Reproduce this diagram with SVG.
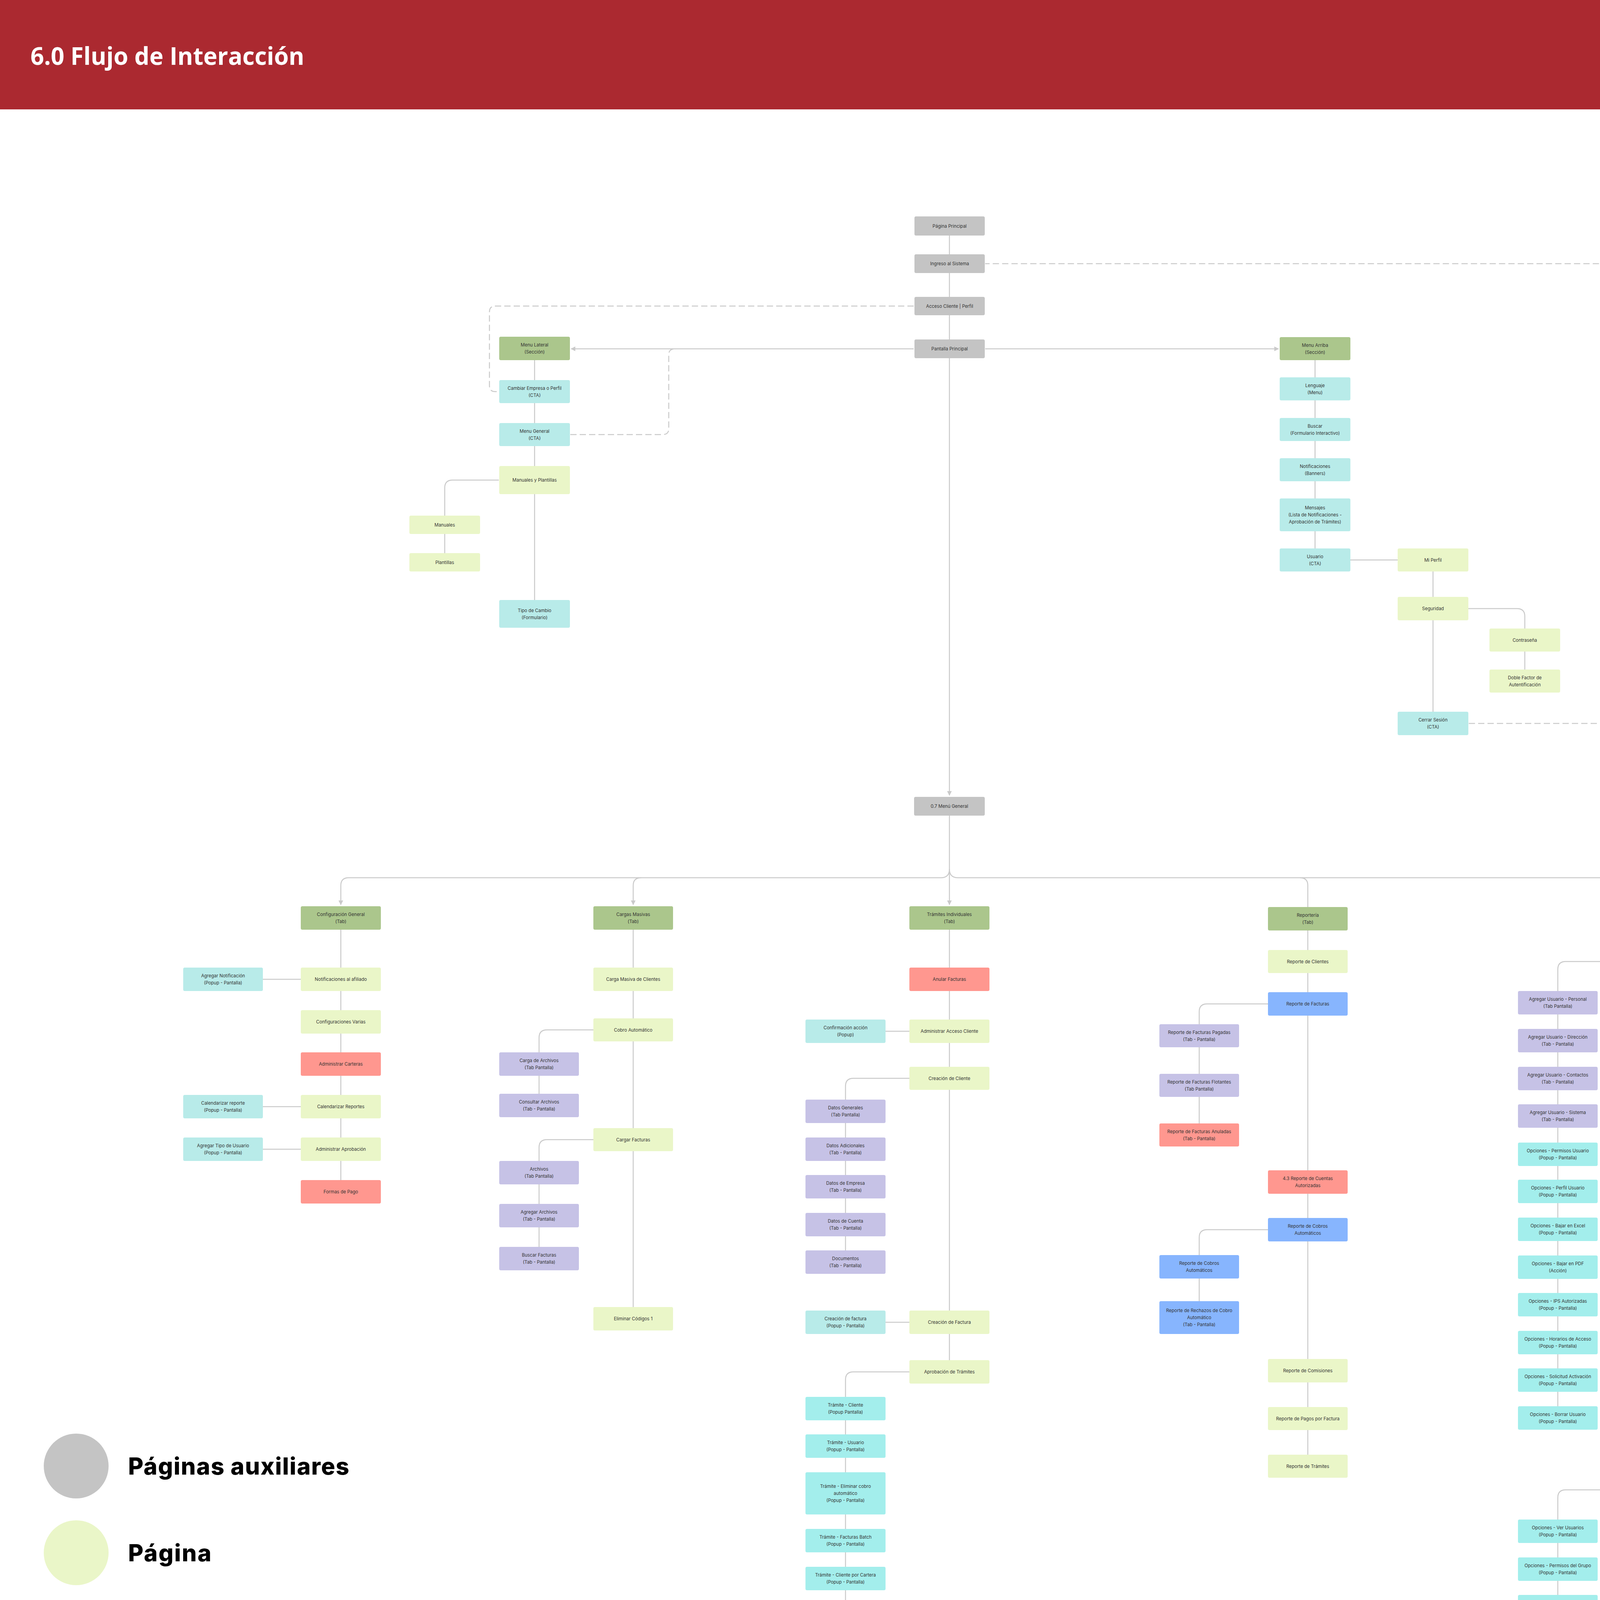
<svg xmlns="http://www.w3.org/2000/svg" width="4870" height="5050" viewBox="0 0 4870 5050">
<defs>
<style>
.n{stroke:none}
.aux{fill:#C4C4C4}.page{fill:#EAF6C8}.pop{fill:#B8EBE9}.pop2{fill:#A3EEEC}.menu{fill:#ABC68C}.del{fill:#FF978F}.tab{fill:#C6C2E6}.join{fill:#87B5FE}
.t{font-family:Inter,"Liberation Sans",sans-serif;font-size:11.5px;fill:#333333;text-anchor:middle}
.c{fill:none;stroke:#CACACA;stroke-width:2.5}
.d{fill:none;stroke:#CACACA;stroke-width:2.5;stroke-dasharray:16 8}
.lg{font-family:Inter,"DejaVu Sans",sans-serif;font-size:60px;font-weight:800;fill:#000000}
</style>
<marker id="arr" viewBox="0 0 10 10" refX="9" refY="5" markerWidth="12" markerHeight="12" markerUnits="userSpaceOnUse" orient="auto"><path d="M0,0 L10,5 L0,10 z" fill="#CACACA"/></marker>
</defs>
<rect x="0" y="0" width="4870" height="5050" fill="#FFFFFF"/>
<g id="header">
<rect x="0" y="0" width="4870" height="280" fill="#AB2930"/>
<text x="78" y="166" font-family="'Open Sans','Noto Sans',sans-serif" font-size="62" font-weight="700" fill="#FFFFFF" textLength="701" lengthAdjust="spacingAndGlyphs">6.0 Flujo de Interacción</text>
</g>
<g id="connectors">
<path class="c" d="M2430.5 603 V2036" marker-end="url(#arr)"/>
<path class="c" d="M2339 893 H1462" marker-end="url(#arr)"/>
<path class="c" d="M2522 893 H3273" marker-end="url(#arr)"/>
<path class="c" d="M1368.5 922 V1536"/>
<path class="c" d="M1277 1229 H1158.5 Q1138.5 1229 1138.5 1249 V1416"/>
<path class="c" d="M3366.5 922 V1404"/>
<path class="c" d="M3457 1433.5 H3578"/>
<path class="c" d="M3668.5 1463 V1822"/>
<path class="c" d="M3759 1558 H3883.5 Q3903.5 1558 3903.5 1578 V1714"/>
<path class="d" d="M2339 783.5 H1268 Q1253 783.5 1253 798.5 V987.5 Q1253 1002.5 1268 1002.5 H1276"/>
<path class="d" d="M1460 1112.5 H1697 Q1712 1112.5 1712 1097.5 V908 Q1712 893 1727 893"/>
<path class="d" d="M3760 1852 H4169 Q4184 1852 4184 1837 V690 Q4184 675 4169 675 H2522"/>
<path class="c" d="M2430.5 2088 V2316" marker-end="url(#arr)"/>
<path class="c" d="M2430.5 2225 Q2430.5 2247 2408.5 2247 H892.5 Q872.5 2247 872.5 2267 V2316" marker-end="url(#arr)"/>
<path class="c" d="M1641 2247 Q1621 2247 1621 2267 V2316" marker-end="url(#arr)"/>
<path class="c" d="M2430.5 2225 Q2430.5 2247 2452.5 2247 H4221.5 Q4241.5 2247 4241.5 2267 V2323"/>
<path class="c" d="M3328 2247 Q3348 2247 3348 2267 V2322"/>
<path class="c" d="M872.5 2380 V3021"/>
<path class="c" d="M673 2507 H770"/>
<path class="c" d="M673 2833 H770"/>
<path class="c" d="M673 2942 H770"/>
<path class="c" d="M1621 2380 V3346"/>
<path class="c" d="M1519 2636.5 H1400 Q1380 2636.5 1380 2656.5 V2800"/>
<path class="c" d="M1519 2917.5 H1400 Q1380 2917.5 1380 2937.5 V3192"/>
<path class="c" d="M2430.5 2380 V3482"/>
<path class="c" d="M2328 2640 H2267"/>
<path class="c" d="M2328 2760.5 H2184.5 Q2164.5 2760.5 2164.5 2780.5 V3201"/>
<path class="c" d="M2328 3385 H2267"/>
<path class="c" d="M2328 3512 H2184.5 Q2164.5 3512 2164.5 3532 V4397"/>
<path class="c" d="M3348 2382 V3724"/>
<path class="c" d="M3246 2570 H3090 Q3070 2570 3070 2590 V2876"/>
<path class="c" d="M3246 3148 H3090 Q3070 3148 3070 3168 V3331"/>
<path class="c" d="M4241.5 2383 V3784"/>
<path class="c" d="M4139 2461.5 H4008 Q3988 2461.5 3988 2481.5 V3600"/>
<path class="c" d="M4139 3814 H4008 Q3988 3814 3988 3834 V4083"/>
</g>
<g id="n-pagina-principal"><rect class="n aux" x="2341" y="554" width="180" height="49" rx="4"/><text class="t" x="2431" y="582.5">Página Principal</text></g>
<g id="n-ingreso"><rect class="n aux" x="2341" y="651" width="180" height="48" rx="4"/><text class="t" x="2431" y="679">Ingreso al Sistema</text></g>
<g id="n-acceso"><rect class="n aux" x="2341" y="760" width="180" height="47" rx="4"/><text class="t" x="2431" y="787.5">Acceso Cliente | Perfil</text></g>
<g id="n-pantalla"><rect class="n aux" x="2341" y="869" width="180" height="48" rx="4"/><text class="t" x="2431" y="897">Pantalla Principal</text></g>
<g id="n-menu-lateral"><rect class="n menu" x="1278" y="862" width="181" height="60" rx="4"/><text class="t" x="1368.5" y="887">Menu Lateral</text><text class="t" x="1368.5" y="905">(Sección)</text></g>
<g id="n-cambiar"><rect class="n pop" x="1278" y="973" width="181" height="59" rx="4"/><text class="t" x="1368.5" y="997.5">Cambiar Empresa o Perfil</text><text class="t" x="1368.5" y="1015.5">(CTA)</text></g>
<g id="n-menu-general-cta"><rect class="n pop" x="1278" y="1083" width="181" height="59" rx="4"/><text class="t" x="1368.5" y="1107.5">Menu General</text><text class="t" x="1368.5" y="1125.5">(CTA)</text></g>
<g id="n-manuales-plantillas"><rect class="n page" x="1278" y="1193" width="181" height="72" rx="4"/><text class="t" x="1368.5" y="1233">Manuales y Plantillas</text></g>
<g id="n-manuales"><rect class="n page" x="1048" y="1320" width="181" height="47" rx="4"/><text class="t" x="1138.5" y="1347.5">Manuales</text></g>
<g id="n-plantillas"><rect class="n page" x="1048" y="1416" width="181" height="47" rx="4"/><text class="t" x="1138.5" y="1443.5">Plantillas</text></g>
<g id="n-tipo-cambio"><rect class="n pop" x="1278" y="1536" width="181" height="71" rx="4"/><text class="t" x="1368.5" y="1566.5">Tipo de Cambio</text><text class="t" x="1368.5" y="1584.5">(Formulario)</text></g>
<g id="n-menu-arriba"><rect class="n menu" x="3276" y="863" width="181" height="59" rx="4"/><text class="t" x="3366.5" y="887.5">Menu Arriba</text><text class="t" x="3366.5" y="905.5">(Sección)</text></g>
<g id="n-lenguaje"><rect class="n pop" x="3276" y="966" width="181" height="59" rx="4"/><text class="t" x="3366.5" y="990.5">Lenguaje</text><text class="t" x="3366.5" y="1008.5">(Menu)</text></g>
<g id="n-buscar"><rect class="n pop" x="3276" y="1070" width="181" height="59" rx="4"/><text class="t" x="3366.5" y="1094.5">Buscar</text><text class="t" x="3366.5" y="1112.5">(Formulario Interactivo)</text></g>
<g id="n-notificaciones"><rect class="n pop" x="3276" y="1173" width="181" height="59" rx="4"/><text class="t" x="3366.5" y="1197.5">Notificaciones</text><text class="t" x="3366.5" y="1215.5">(Banners)</text></g>
<g id="n-mensajes"><rect class="n pop" x="3276" y="1276" width="181" height="84" rx="4"/><text class="t" x="3366.5" y="1304">Mensajes</text><text class="t" x="3366.5" y="1322">(Lista de Notificaciones -</text><text class="t" x="3366.5" y="1340">Aprobación de Trámites)</text></g>
<g id="n-usuario"><rect class="n pop" x="3276" y="1404" width="181" height="59" rx="4"/><text class="t" x="3366.5" y="1428.5">Usuario</text><text class="t" x="3366.5" y="1446.5">(CTA)</text></g>
<g id="n-mi-perfil"><rect class="n page" x="3578" y="1404" width="181" height="59" rx="4"/><text class="t" x="3668.5" y="1437.5">Mi Perfil</text></g>
<g id="n-seguridad"><rect class="n page" x="3578" y="1528" width="181" height="60" rx="4"/><text class="t" x="3668.5" y="1562">Seguridad</text></g>
<g id="n-contrasena"><rect class="n page" x="3813" y="1609" width="181" height="59" rx="4"/><text class="t" x="3903.5" y="1642.5">Contraseña</text></g>
<g id="n-doble-factor"><rect class="n page" x="3813" y="1714" width="181" height="59" rx="4"/><text class="t" x="3903.5" y="1738.5">Doble Factor de</text><text class="t" x="3903.5" y="1756.5">Autentificación</text></g>
<g id="n-cerrar-sesion"><rect class="n pop" x="3578" y="1822" width="181" height="60" rx="4"/><text class="t" x="3668.5" y="1847">Cerrar Sesión</text><text class="t" x="3668.5" y="1865">(CTA)</text></g>
<g id="n-menu-general"><rect class="n aux" x="2340" y="2040" width="181" height="48" rx="4"/><text class="t" x="2430.5" y="2068">0.7 Menú General</text></g>
<g id="n-config-general"><rect class="n menu" x="770" y="2320" width="205" height="60" rx="4"/><text class="t" x="872.5" y="2345">Configuración General</text><text class="t" x="872.5" y="2363">(Tab)</text></g>
<g id="n-notif-afiliado"><rect class="n page" x="770" y="2477" width="205" height="60" rx="4"/><text class="t" x="872.5" y="2511">Notificaciones al afiliado</text></g>
<g id="n-config-varias"><rect class="n page" x="770" y="2586" width="205" height="60" rx="4"/><text class="t" x="872.5" y="2620">Configuraciones Varias</text></g>
<g id="n-admin-carteras"><rect class="n del" x="770" y="2694" width="205" height="60" rx="4"/><text class="t" x="872.5" y="2728">Administrar Carteras</text></g>
<g id="n-calendarizar-reportes"><rect class="n page" x="770" y="2803" width="205" height="60" rx="4"/><text class="t" x="872.5" y="2837">Calendarizar Reportes</text></g>
<g id="n-admin-aprobacion"><rect class="n page" x="770" y="2912" width="205" height="60" rx="4"/><text class="t" x="872.5" y="2946">Administrar Aprobación</text></g>
<g id="n-formas-pago"><rect class="n del" x="770" y="3021" width="205" height="60" rx="4"/><text class="t" x="872.5" y="3055">Formas de Pago</text></g>
<g id="n-agregar-notif"><rect class="n pop" x="469" y="2477" width="204" height="60" rx="4"/><text class="t" x="571" y="2502">Agregar Notificación</text><text class="t" x="571" y="2520">(Popup - Pantalla)</text></g>
<g id="n-calendarizar-reporte"><rect class="n pop" x="469" y="2803" width="204" height="60" rx="4"/><text class="t" x="571" y="2828">Calendarizar reporte</text><text class="t" x="571" y="2846">(Popup - Pantalla)</text></g>
<g id="n-agregar-tipo-usuario"><rect class="n pop" x="469" y="2912" width="204" height="60" rx="4"/><text class="t" x="571" y="2937">Agregar Tipo de Usuario</text><text class="t" x="571" y="2955">(Popup - Pantalla)</text></g>
<g id="n-cargas-masivas"><rect class="n menu" x="1519" y="2320" width="204" height="60" rx="4"/><text class="t" x="1621" y="2345">Cargas Masivas</text><text class="t" x="1621" y="2363">(Tab)</text></g>
<g id="n-carga-masiva-clientes"><rect class="n page" x="1519" y="2477" width="204" height="60" rx="4"/><text class="t" x="1621" y="2511">Carga Masiva de Clientes</text></g>
<g id="n-cobro-automatico"><rect class="n page" x="1519" y="2607" width="204" height="59" rx="4"/><text class="t" x="1621" y="2640.5">Cobro Automático</text></g>
<g id="n-cargar-facturas"><rect class="n page" x="1519" y="2888" width="204" height="59" rx="4"/><text class="t" x="1621" y="2921.5">Cargar Facturas</text></g>
<g id="n-eliminar-codigos"><rect class="n page" x="1519" y="3346" width="204" height="60" rx="4"/><text class="t" x="1621" y="3380">Eliminar Códigos 1</text></g>
<g id="n-carga-archivos"><rect class="n tab" x="1278" y="2694" width="204" height="60" rx="4"/><text class="t" x="1380" y="2719">Carga de Archivos</text><text class="t" x="1380" y="2737">(Tab Pantalla)</text></g>
<g id="n-consultar-archivos"><rect class="n tab" x="1278" y="2800" width="204" height="60" rx="4"/><text class="t" x="1380" y="2825">Consultar Archivos</text><text class="t" x="1380" y="2843">(Tab - Pantalla)</text></g>
<g id="n-archivos"><rect class="n tab" x="1278" y="2972" width="204" height="60" rx="4"/><text class="t" x="1380" y="2997">Archivos</text><text class="t" x="1380" y="3015">(Tab Pantalla)</text></g>
<g id="n-agregar-archivos"><rect class="n tab" x="1278" y="3082" width="204" height="60" rx="4"/><text class="t" x="1380" y="3107">Agregar Archivos</text><text class="t" x="1380" y="3125">(Tab - Pantalla)</text></g>
<g id="n-buscar-facturas"><rect class="n tab" x="1278" y="3192" width="204" height="60" rx="4"/><text class="t" x="1380" y="3217">Buscar Facturas</text><text class="t" x="1380" y="3235">(Tab - Pantalla)</text></g>
<g id="n-tramites-individuales"><rect class="n menu" x="2328" y="2320" width="205" height="60" rx="4"/><text class="t" x="2430.5" y="2345">Trámites Individuales</text><text class="t" x="2430.5" y="2363">(Tab)</text></g>
<g id="n-anular-facturas"><rect class="n del" x="2328" y="2477" width="205" height="60" rx="4"/><text class="t" x="2430.5" y="2511">Anular Facturas</text></g>
<g id="n-admin-acceso-cliente"><rect class="n page" x="2328" y="2610" width="205" height="60" rx="4"/><text class="t" x="2430.5" y="2644">Administrar Acceso Cliente</text></g>
<g id="n-creacion-cliente"><rect class="n page" x="2328" y="2731" width="205" height="59" rx="4"/><text class="t" x="2430.5" y="2764.5">Creación de Cliente</text></g>
<g id="n-creacion-factura"><rect class="n page" x="2328" y="3355" width="205" height="60" rx="4"/><text class="t" x="2430.5" y="3389">Creación de Factura</text></g>
<g id="n-aprobacion-tramites"><rect class="n page" x="2328" y="3482" width="205" height="60" rx="4"/><text class="t" x="2430.5" y="3516">Aprobación de Trámites</text></g>
<g id="n-confirmacion-accion"><rect class="n pop" x="2062" y="2610" width="205" height="60" rx="4"/><text class="t" x="2164.5" y="2635">Confirmación acción</text><text class="t" x="2164.5" y="2653">(Popup)</text></g>
<g id="n-datos-generales"><rect class="n tab" x="2062" y="2815" width="205" height="60" rx="4"/><text class="t" x="2164.5" y="2840">Datos Generales</text><text class="t" x="2164.5" y="2858">(Tab Pantalla)</text></g>
<g id="n-datos-adicionales"><rect class="n tab" x="2062" y="2912" width="205" height="60" rx="4"/><text class="t" x="2164.5" y="2937">Datos Adicionales</text><text class="t" x="2164.5" y="2955">(Tab - Pantalla)</text></g>
<g id="n-datos-empresa"><rect class="n tab" x="2062" y="3008" width="205" height="60" rx="4"/><text class="t" x="2164.5" y="3033">Datos de Empresa</text><text class="t" x="2164.5" y="3051">(Tab - Pantalla)</text></g>
<g id="n-datos-cuenta"><rect class="n tab" x="2062" y="3105" width="205" height="60" rx="4"/><text class="t" x="2164.5" y="3130">Datos de Cuenta</text><text class="t" x="2164.5" y="3148">(Tab - Pantalla)</text></g>
<g id="n-documentos"><rect class="n tab" x="2062" y="3201" width="205" height="60" rx="4"/><text class="t" x="2164.5" y="3226">Documentos</text><text class="t" x="2164.5" y="3244">(Tab - Pantalla)</text></g>
<g id="n-creacion-factura-popup"><rect class="n pop" x="2062" y="3355" width="205" height="60" rx="4"/><text class="t" x="2164.5" y="3380">Creación de factura</text><text class="t" x="2164.5" y="3398">(Popup - Pantalla)</text></g>
<g id="n-tramite-cliente"><rect class="n pop2" x="2062" y="3576" width="205" height="60" rx="4"/><text class="t" x="2164.5" y="3601">Trámite - Cliente</text><text class="t" x="2164.5" y="3619">(Popup Pantalla)</text></g>
<g id="n-tramite-usuario"><rect class="n pop2" x="2062" y="3672" width="205" height="60" rx="4"/><text class="t" x="2164.5" y="3697">Trámite - Usuario</text><text class="t" x="2164.5" y="3715">(Popup - Pantalla)</text></g>
<g id="n-tramite-eliminar-cobro"><rect class="n pop2" x="2062" y="3769" width="205" height="108" rx="4"/><text class="t" x="2164.5" y="3809">Trámite - Eliminar cobro</text><text class="t" x="2164.5" y="3827">automático</text><text class="t" x="2164.5" y="3845">(Popup - Pantalla)</text></g>
<g id="n-tramite-facturas-batch"><rect class="n pop2" x="2062" y="3914" width="205" height="60" rx="4"/><text class="t" x="2164.5" y="3939">Trámite - Facturas Batch</text><text class="t" x="2164.5" y="3957">(Popup - Pantalla)</text></g>
<g id="n-tramite-cliente-cartera"><rect class="n pop2" x="2062" y="4011" width="205" height="60" rx="4"/><text class="t" x="2164.5" y="4036">Trámite - Cliente por Cartera</text><text class="t" x="2164.5" y="4054">(Popup - Pantalla)</text></g>
<g id="n-tramite-eliminar-codigos"><rect class="n pop2" x="2062" y="4107" width="205" height="60" rx="4"/><text class="t" x="2164.5" y="4132">Trámite - Eliminar Códigos 1</text><text class="t" x="2164.5" y="4150">(Popup - Pantalla)</text></g>
<g id="n-tramite-permiso"><rect class="n pop2" x="2062" y="4204" width="205" height="60" rx="4"/><text class="t" x="2164.5" y="4229">Trámite - Permiso</text><text class="t" x="2164.5" y="4247">(Popup - Pantalla)</text></g>
<g id="n-tramite-usuario-cartera"><rect class="n pop2" x="2062" y="4300" width="205" height="60" rx="4"/><text class="t" x="2164.5" y="4325">Trámite - Usuario por cartera</text><text class="t" x="2164.5" y="4343">(Popup - Pantalla)</text></g>
<g id="n-tramite-cobro-automatico"><rect class="n pop2" x="2062" y="4397" width="205" height="60" rx="4"/><text class="t" x="2164.5" y="4422">Trámite - Cobro Automático</text><text class="t" x="2164.5" y="4440">(Popup - Pantalla)</text></g>
<g id="n-reporteria"><rect class="n menu" x="3246" y="2322" width="204" height="60" rx="4"/><text class="t" x="3348" y="2347">Reportería</text><text class="t" x="3348" y="2365">(Tab)</text></g>
<g id="n-reporte-clientes"><rect class="n page" x="3246" y="2432" width="204" height="59" rx="4"/><text class="t" x="3348" y="2465.5">Reporte de Clientes</text></g>
<g id="n-reporte-facturas"><rect class="n join" x="3246" y="2540" width="204" height="60" rx="4"/><text class="t" x="3348" y="2574">Reporte de Facturas</text></g>
<g id="n-reporte-cuentas"><rect class="n del" x="3246" y="2996" width="204" height="60" rx="4"/><text class="t" x="3348" y="3021">4.3 Reporte de Cuentas</text><text class="t" x="3348" y="3039">Autorizadas</text></g>
<g id="n-reporte-cobros"><rect class="n join" x="3246" y="3118" width="204" height="60" rx="4"/><text class="t" x="3348" y="3143">Reporte de Cobros</text><text class="t" x="3348" y="3161">Automáticos</text></g>
<g id="n-reporte-comisiones"><rect class="n page" x="3246" y="3479" width="204" height="60" rx="4"/><text class="t" x="3348" y="3513">Reporte de Comisiones</text></g>
<g id="n-reporte-pagos"><rect class="n page" x="3246" y="3602" width="204" height="59" rx="4"/><text class="t" x="3348" y="3635.5">Reporte de Pagos por Factura</text></g>
<g id="n-reporte-tramites"><rect class="n page" x="3246" y="3724" width="204" height="59" rx="4"/><text class="t" x="3348" y="3757.5">Reporte de Trámites</text></g>
<g id="n-reporte-pagadas"><rect class="n tab" x="2968" y="2622" width="204" height="59" rx="4"/><text class="t" x="3070" y="2646.5">Reporte de Facturas Pagadas</text><text class="t" x="3070" y="2664.5">(Tab - Pantalla)</text></g>
<g id="n-reporte-flotantes"><rect class="n tab" x="2968" y="2749" width="204" height="59" rx="4"/><text class="t" x="3070" y="2773.5">Reporte de Facturas Flotantes</text><text class="t" x="3070" y="2791.5">(Tab Pantalla)</text></g>
<g id="n-reporte-anuladas"><rect class="n del" x="2968" y="2876" width="204" height="59" rx="4"/><text class="t" x="3070" y="2900.5">Reporte de Facturas Anuladas</text><text class="t" x="3070" y="2918.5">(Tab - Pantalla)</text></g>
<g id="n-reporte-cobros-2"><rect class="n join" x="2968" y="3213" width="204" height="60" rx="4"/><text class="t" x="3070" y="3238">Reporte de Cobros</text><text class="t" x="3070" y="3256">Automáticos</text></g>
<g id="n-reporte-rechazos"><rect class="n join" x="2968" y="3331" width="204" height="84" rx="4"/><text class="t" x="3070" y="3359">Reporte de Rechazos de Cobro</text><text class="t" x="3070" y="3377">Automático</text><text class="t" x="3070" y="3395">(Tab - Pantalla)</text></g>
<g id="n-admin-usuarios"><rect class="n menu" x="4139" y="2323" width="205" height="60" rx="4"/><text class="t" x="4241.5" y="2348">5.0 Administración de Usuarios</text><text class="t" x="4241.5" y="2366">(Tab)</text></g>
<g id="n-catalogo-usuarios"><rect class="n page" x="4139" y="2432" width="205" height="59" rx="4"/><text class="t" x="4241.5" y="2465.5">Catálogo de Usuarios</text></g>
<g id="n-catalogo-grupos"><rect class="n page" x="4139" y="3784" width="205" height="60" rx="4"/><text class="t" x="4241.5" y="3818">Catálogo de Grupos</text></g>
<g id="n-au-personal"><rect class="n tab" x="3886" y="2537" width="204" height="60" rx="4"/><text class="t" x="3988" y="2562">Agregar Usuario - Personal</text><text class="t" x="3988" y="2580">(Tab Pantalla)</text></g>
<g id="n-au-direccion"><rect class="n tab" x="3886" y="2634" width="204" height="60" rx="4"/><text class="t" x="3988" y="2659">Agregar Usuario - Dirección</text><text class="t" x="3988" y="2677">(Tab - Pantalla)</text></g>
<g id="n-au-contactos"><rect class="n tab" x="3886" y="2731" width="204" height="60" rx="4"/><text class="t" x="3988" y="2756">Agregar Usuario - Contactos</text><text class="t" x="3988" y="2774">(Tab - Pantalla)</text></g>
<g id="n-au-sistema"><rect class="n tab" x="3886" y="2827" width="204" height="60" rx="4"/><text class="t" x="3988" y="2852">Agregar Usuario - Sistema</text><text class="t" x="3988" y="2870">(Tab - Pantalla)</text></g>
<g id="n-op-permisos"><rect class="n pop2" x="3886" y="2925" width="204" height="60" rx="4"/><text class="t" x="3988" y="2950">Opciones - Permisos Usuario</text><text class="t" x="3988" y="2968">(Popup - Pantalla)</text></g>
<g id="n-op-perfil"><rect class="n pop2" x="3886" y="3020" width="204" height="60" rx="4"/><text class="t" x="3988" y="3045">Opciones - Perfil Usuario</text><text class="t" x="3988" y="3063">(Popup - Pantalla)</text></g>
<g id="n-op-excel"><rect class="n pop2" x="3886" y="3117" width="204" height="60" rx="4"/><text class="t" x="3988" y="3142">Opciones - Bajar en Excel</text><text class="t" x="3988" y="3160">(Popup - Pantalla)</text></g>
<g id="n-op-pdf"><rect class="n pop2" x="3886" y="3214" width="204" height="60" rx="4"/><text class="t" x="3988" y="3239">Opciones - Bajar en PDF</text><text class="t" x="3988" y="3257">(Acción)</text></g>
<g id="n-op-ips"><rect class="n pop2" x="3886" y="3310" width="204" height="60" rx="4"/><text class="t" x="3988" y="3335">Opciones - IPS Autorizadas</text><text class="t" x="3988" y="3353">(Popup - Pantalla)</text></g>
<g id="n-op-horarios"><rect class="n pop2" x="3886" y="3407" width="204" height="60" rx="4"/><text class="t" x="3988" y="3432">Opciones - Horarios de Acceso</text><text class="t" x="3988" y="3450">(Popup - Pantalla)</text></g>
<g id="n-op-solicitud"><rect class="n pop2" x="3886" y="3503" width="204" height="60" rx="4"/><text class="t" x="3988" y="3528">Opciones - Solicitud Activación</text><text class="t" x="3988" y="3546">(Popup - Pantalla)</text></g>
<g id="n-op-borrar"><rect class="n pop2" x="3886" y="3600" width="204" height="60" rx="4"/><text class="t" x="3988" y="3625">Opciones - Borrar Usuario</text><text class="t" x="3988" y="3643">(Popup - Pantalla)</text></g>
<g id="n-op-ver-usuarios"><rect class="n pop2" x="3886" y="3890" width="204" height="60" rx="4"/><text class="t" x="3988" y="3915">Opciones - Ver Usuarios</text><text class="t" x="3988" y="3933">(Popup - Pantalla)</text></g>
<g id="n-op-permisos-grupo"><rect class="n pop2" x="3886" y="3987" width="204" height="60" rx="4"/><text class="t" x="3988" y="4012">Opciones - Permisos del Grupo</text><text class="t" x="3988" y="4030">(Popup - Pantalla)</text></g>
<g id="n-op-remover-grupo"><rect class="n pop2" x="3886" y="4083" width="204" height="60" rx="4"/><text class="t" x="3988" y="4108">Opciones - Remover Grupo</text><text class="t" x="3988" y="4126">(Popup - Acción)</text></g>
<g id="legend">
<circle cx="195" cy="3753" r="83" fill="#C4C4C4"/>
<text class="lg" x="328" y="3775" textLength="566">Páginas auxiliares</text>
<circle cx="195" cy="3975" r="83" fill="#EAF6C8"/>
<text class="lg" x="328" y="3997" textLength="213">Página</text>
<circle cx="195" cy="4197" r="83" fill="#C4ECEE"/>
<text class="lg" x="328" y="4219" textLength="195">Popup</text>
<circle cx="195" cy="4419" r="83" fill="#ABC68C"/>
<text class="lg" x="328" y="4441" textLength="583">Categoría de Menú</text>
<circle cx="195" cy="4640" r="83" fill="#FF978F"/>
<text class="lg" x="328" y="4662" textLength="771">Páginas a ser eliminadas</text>
<circle cx="198" cy="4863" r="83" fill="#88B6FF"/>
<text class="lg" x="332" y="4885" textLength="472">Páginas unidas</text>
</g>
</svg>
